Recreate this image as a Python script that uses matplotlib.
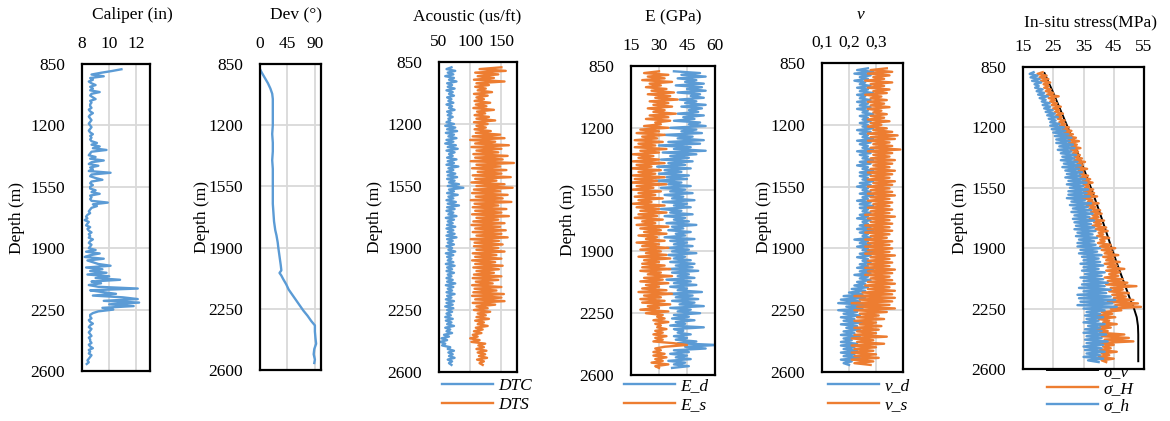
import numpy as np
import matplotlib
matplotlib.use("Agg")
import matplotlib.pyplot as plt

plt.rcParams['font.family'] = ['Liberation Serif', 'DejaVu Serif']

# ---------------- data ----------------
depth = np.arange(880, 2561, 10)          # sample depths (m)
depth_ticks = [850, 1200, 1550, 1900, 2250, 2600]

caliper = [10.9, 10.2, 9.4, 8.7, 9.6, 8.6, 8.8, 8.5, 8.7, 9.0,
           8.6, 8.8, 8.6, 9.3, 8.7, 8.6, 8.8, 9.0, 8.6, 8.7,
           8.6, 8.6, 8.7, 8.5, 8.6, 8.8, 8.6, 8.5, 8.6, 8.7,
           8.6, 8.5, 8.6, 8.7, 8.6, 8.5, 8.6, 8.8, 8.6, 8.7,
           8.6, 8.7, 9.1, 8.7, 9.3, 8.8, 9.8, 8.7, 8.6, 8.5,
           9.0, 8.6, 9.6, 8.7, 8.5, 9.2, 8.6, 8.8, 8.5, 10.1,
           8.7, 8.6, 9.0, 9.5, 8.7, 8.6, 8.8, 8.6, 8.6, 9.0,
           8.7, 9.3, 8.6, 8.7, 8.6, 8.7, 9.9, 8.8, 9.1, 8.7,
           8.6, 8.5, 8.6, 8.4, 8.3, 8.4, 8.2, 8.5, 8.4, 8.3,
           8.6, 8.4, 8.5, 8.7, 8.5, 8.6, 8.5, 8.8, 8.6, 8.5,
           8.7, 8.6, 8.5, 9.0, 8.3, 9.3, 8.6, 8.2, 9.6, 8.4,
           8.8, 9.2, 10.1, 8.3, 9.5, 8.6, 9.8, 8.4, 10.0, 9.0,
           10.8, 8.7, 9.4, 8.5, 9.2, 12.1, 8.6, 9.5, 10.5, 8.8,
           11.0, 12.1, 9.6, 12.2, 10.0, 11.8, 9.5, 10.3, 9.2, 8.8,
           8.6, 8.6, 8.7, 8.5, 8.6, 8.8, 8.6, 8.5, 8.7, 8.6,
           8.5, 8.6, 8.7, 8.5, 8.6, 8.6, 8.7, 8.5, 8.6, 8.8,
           8.5, 8.6, 8.5, 8.7, 8.6, 8.5, 8.4, 8.5, 8.35]

dev_depth = [880, 900, 930, 960, 990, 1020, 1050, 1100, 1200, 1250, 1300, 1350,
             1400, 1450, 1500, 1550, 1600, 1650, 1700, 1750, 1800, 1830, 1870,
             1900, 1950, 2000, 2030, 2045, 2060, 2080, 2110, 2140, 2170, 2200,
             2230, 2260, 2290, 2320, 2345, 2380, 2420, 2450, 2480, 2510, 2540, 2560]
dev = [0, 3, 8, 13, 17, 20, 21, 21, 21, 20, 21, 21,
       20, 21, 21, 21, 21, 21, 22, 23, 25, 27, 29,
       30, 32, 34, 35, 32, 35, 38, 43, 47, 53, 59,
       65, 71, 78, 84, 90, 90, 91, 92, 89, 88, 90, 89]

dtc = [70, 62, 76, 64, 73, 60, 74, 66, 78, 63,
       71, 64, 75, 62, 72, 66, 74, 63, 70, 65,
       73, 62, 71, 66, 75, 63, 70, 64, 72, 65,
       68, 62, 74, 60, 76, 63, 79, 61, 74, 65,
       78, 62, 73, 60, 77, 64, 80, 62, 75, 66,
       72, 63, 78, 64, 74, 62, 81, 65, 73, 63,
       76, 64, 79, 63, 75, 66, 82, 64, 89, 66,
       74, 63, 80, 65, 73, 62, 77, 64, 82, 63,
       75, 62, 73, 65, 78, 61, 74, 64, 72, 63,
       76, 62, 73, 64, 75, 62, 78, 63, 72, 64,
       74, 62, 71, 65, 76, 61, 73, 63, 70, 64,
       73, 61, 75, 63, 71, 62, 74, 64, 70, 62,
       72, 63, 76, 61, 73, 64, 71, 62, 75, 63,
       70, 61, 74, 62, 72, 60, 73, 63, 71, 62,
       69, 60, 72, 61, 70, 63, 74, 60, 68, 62,
       71, 58, 66, 54, 63, 52, 60, 55, 68, 64,
       74, 65, 72, 66, 75, 64, 71, 66, 70]

dts = [150, 115, 157, 108, 145, 112, 138, 106, 155, 110,
       130, 108, 125, 112, 135, 106, 128, 110, 122, 107,
       132, 109, 126, 105, 138, 111, 124, 107, 130, 110,
       140, 106, 128, 110, 125, 107, 133, 109, 148, 104,
       155, 100, 140, 108, 162, 102, 150, 110, 145, 105,
       160, 108, 152, 101, 170, 110, 148, 103, 158, 112,
       150, 104, 165, 108, 142, 102, 155, 110, 168, 106,
       148, 103, 160, 109, 152, 101, 166, 107, 145, 104,
       158, 108, 150, 103, 162, 110, 145, 105, 155, 102,
       148, 108, 157, 104, 150, 110, 160, 101, 146, 107,
       152, 106, 145, 110, 155, 104, 142, 108, 150, 103,
       140, 108, 152, 105, 146, 110, 138, 106, 150, 104,
       145, 109, 136, 103, 150, 107, 142, 105, 154, 103,
       150, 108, 155, 104, 140, 110, 128, 106, 132, 112,
       125, 110, 130, 108, 122, 112, 128, 109, 120, 106,
       118, 104, 112, 100, 115, 102, 124, 113, 122, 110,
       126, 112, 124, 114, 127, 111, 122, 115, 120]

e_d = [38, 52, 42, 55, 40, 50, 44, 54, 39, 53,
       45, 55, 40, 52, 47, 54, 41, 50, 44, 55,
       42, 53, 46, 51, 40, 54, 43, 49, 38, 52,
       46, 55, 36, 50, 42, 53, 33, 48, 40, 54,
       35, 52, 30, 47, 38, 55, 32, 50, 36, 46,
       31, 48, 35, 44, 29, 47, 33, 42, 30, 46,
       34, 45, 28, 42, 35, 47, 31, 44, 36, 48,
       33, 43, 37, 49, 32, 45, 38, 47, 31, 42,
       36, 48, 33, 44, 38, 46, 34, 50, 37, 43,
       35, 47, 39, 44, 33, 49, 36, 45, 38, 48,
       34, 46, 37, 50, 35, 44, 38, 47, 36, 49,
       39, 48, 35, 51, 37, 46, 40, 49, 34, 47,
       38, 50, 36, 45, 40, 53, 35, 48, 39, 51,
       37, 49, 41, 54, 36, 47, 40, 52, 38, 46,
       37, 49, 39, 44, 36, 54, 38, 43, 40, 47,
       38, 45, 39, 50, 40, 61, 44, 55, 38, 46,
       36, 45, 39, 47, 35, 44, 38, 46, 37]

e_s = [30, 22, 35, 24, 33, 21, 37, 25, 31, 23,
       34, 26, 38, 24, 36, 28, 40, 25, 35, 27,
       37, 24, 33, 27, 39, 25, 35, 23, 36, 28,
       31, 22, 35, 20, 30, 18, 33, 21, 29, 17,
       32, 19, 28, 17, 34, 20, 30, 16, 27, 19,
       30, 16, 33, 18, 26, 15, 31, 19, 28, 16,
       33, 17, 29, 15, 34, 18, 27, 16, 31, 19,
       28, 17, 32, 19, 26, 16, 33, 18, 30, 20,
       34, 19, 29, 17, 32, 21, 28, 18, 35, 20,
       31, 22, 34, 19, 29, 23, 33, 18, 30, 21,
       35, 20, 31, 23, 34, 19, 36, 22, 30, 21,
       33, 21, 36, 20, 31, 24, 37, 22, 32, 20,
       35, 23, 30, 21, 34, 19, 37, 22, 31, 20,
       33, 21, 36, 24, 30, 20, 35, 23, 32, 29,
       33, 27, 35, 28, 31, 29, 34, 28, 32, 27,
       34, 28, 32, 27, 38, 45, 33, 28, 31, 27,
       33, 27, 34, 28, 32, 26, 35, 28, 30]

v_d = [0.27, 0.23, 0.29, 0.22, 0.28, 0.24, 0.27, 0.22, 0.26, 0.24,
       0.28, 0.23, 0.27, 0.24, 0.29, 0.23, 0.26, 0.24, 0.28, 0.23,
       0.27, 0.24, 0.28, 0.23, 0.27, 0.25, 0.29, 0.24, 0.27, 0.25,
       0.28, 0.24, 0.27, 0.25, 0.29, 0.23, 0.28, 0.24, 0.27, 0.25,
       0.29, 0.23, 0.28, 0.24, 0.27, 0.25, 0.29, 0.23, 0.28, 0.24,
       0.27, 0.25, 0.29, 0.24, 0.28, 0.23, 0.27, 0.25, 0.29, 0.24,
       0.28, 0.24, 0.27, 0.25, 0.29, 0.24, 0.28, 0.23, 0.27, 0.25,
       0.28, 0.24, 0.29, 0.25, 0.27, 0.23, 0.28, 0.24, 0.29, 0.24,
       0.27, 0.25, 0.28, 0.24, 0.27, 0.23, 0.28, 0.25, 0.27, 0.24,
       0.28, 0.23, 0.29, 0.24, 0.27, 0.25, 0.28, 0.22, 0.27, 0.24,
       0.28, 0.23, 0.27, 0.25, 0.29, 0.24, 0.28, 0.23, 0.27, 0.25,
       0.28, 0.24, 0.27, 0.23, 0.29, 0.24, 0.28, 0.22, 0.27, 0.24,
       0.28, 0.23, 0.26, 0.22, 0.27, 0.21, 0.26, 0.20, 0.25, 0.18,
       0.26, 0.17, 0.24, 0.16, 0.27, 0.19, 0.25, 0.16, 0.23, 0.18,
       0.24, 0.17, 0.22, 0.18, 0.25, 0.17, 0.23, 0.19, 0.24, 0.18,
       0.22, 0.17, 0.24, 0.18, 0.21, 0.17, 0.23, 0.17, 0.22, 0.18,
       0.23, 0.17, 0.22, 0.18, 0.24, 0.17, 0.21, 0.18, 0.20]

v_s = [0.34, 0.28, 0.36, 0.27, 0.35, 0.29, 0.33, 0.26, 0.36, 0.28,
       0.33, 0.27, 0.35, 0.29, 0.34, 0.26, 0.32, 0.28, 0.34, 0.27,
       0.33, 0.28, 0.35, 0.27, 0.32, 0.29, 0.34, 0.28, 0.33, 0.27,
       0.35, 0.28, 0.32, 0.27, 0.34, 0.29, 0.36, 0.27, 0.38, 0.28,
       0.37, 0.27, 0.35, 0.29, 0.36, 0.28, 0.39, 0.27, 0.36, 0.29,
       0.35, 0.28, 0.37, 0.27, 0.36, 0.29, 0.35, 0.28, 0.37, 0.27,
       0.36, 0.28, 0.35, 0.27, 0.37, 0.29, 0.36, 0.27, 0.35, 0.28,
       0.36, 0.27, 0.37, 0.28, 0.35, 0.27, 0.36, 0.29, 0.35, 0.27,
       0.36, 0.28, 0.35, 0.26, 0.37, 0.27, 0.35, 0.28, 0.36, 0.26,
       0.35, 0.27, 0.36, 0.26, 0.35, 0.28, 0.34, 0.26, 0.36, 0.27,
       0.35, 0.26, 0.36, 0.27, 0.35, 0.26, 0.37, 0.28, 0.35, 0.27,
       0.36, 0.27, 0.35, 0.26, 0.37, 0.27, 0.36, 0.26, 0.35, 0.28,
       0.36, 0.27, 0.37, 0.26, 0.35, 0.27, 0.37, 0.25, 0.36, 0.22,
       0.37, 0.24, 0.36, 0.21, 0.35, 0.23, 0.37, 0.22, 0.34, 0.24,
       0.31, 0.23, 0.33, 0.22, 0.30, 0.24, 0.32, 0.22, 0.31, 0.23,
       0.30, 0.22, 0.34, 0.21, 0.29, 0.23, 0.33, 0.21, 0.30, 0.22,
       0.29, 0.21, 0.30, 0.22, 0.31, 0.21, 0.29, 0.22, 0.28]

sv_depth = [885, 1000, 1100, 1200, 1300, 1400, 1500, 1600, 1700, 1800, 1900,
            2000, 2100, 2200, 2250, 2300, 2350, 2400, 2450, 2555]
sigma_v = [22.1, 25.0, 27.4, 29.8, 32.0, 34.2, 36.4, 38.5, 40.5, 42.4, 44.3,
           46.3, 48.4, 50.5, 51.7, 52.6, 53.0, 53.1, 53.1, 53.1]

sigma_H = [21.5, 19.8, 22.8, 20.5, 23.4, 21.0, 24.0, 21.8, 23.5, 22.0,
           24.2, 22.5, 25.0, 23.0, 26.8, 23.5, 25.6, 24.0, 26.2, 24.5,
           27.5, 25.0, 27.0, 25.6, 28.2, 26.0, 27.8, 26.5, 28.8, 27.0,
           29.0, 27.2, 30.2, 28.0, 31.0, 28.6, 31.5, 29.0, 32.5, 30.0,
           33.5, 30.2, 32.8, 31.0, 34.0, 30.8, 33.2, 31.5, 33.8, 32.0,
           34.5, 32.0, 35.5, 33.0, 34.8, 32.5, 36.2, 33.4, 35.0, 33.8,
           36.5, 34.0, 37.2, 34.8, 38.0, 35.0, 36.8, 35.5, 38.2, 35.2,
           38.5, 35.5, 39.5, 34.5, 38.0, 36.5, 40.0, 36.0, 39.0, 37.0,
           40.5, 37.5, 41.0, 38.0, 40.0, 37.0, 41.8, 38.5, 40.8, 38.0,
           42.5, 39.0, 43.0, 40.0, 41.5, 39.5, 43.5, 40.5, 42.0, 39.8,
           44.0, 40.5, 45.5, 41.0, 44.5, 42.0, 46.5, 41.5, 45.0, 42.5,
           47.0, 42.0, 46.0, 43.0, 48.5, 42.5, 47.0, 43.5, 46.5, 42.0,
           48.0, 43.0, 49.5, 42.5, 52.5, 44.0, 48.0, 43.5, 50.0, 44.5,
           49.0, 45.0, 51.5, 43.0, 53.0, 45.5, 54.0, 44.0, 47.5, 41.0,
           44.5, 39.5, 45.5, 40.0, 43.5, 41.5, 46.0, 40.5, 44.0, 39.0,
           43.0, 40.5, 48.5, 41.0, 50.0, 42.0, 51.5, 40.0, 45.0, 41.5,
           44.0, 40.5, 46.0, 41.0, 43.5, 40.0, 45.0, 41.0, 42.5]

sigma_h = [18.5, 17.2, 19.8, 17.5, 20.5, 18.0, 21.0, 18.8, 20.2, 19.0,
           21.5, 19.5, 22.0, 20.0, 23.2, 20.5, 22.5, 21.2, 23.8, 21.5,
           24.0, 22.0, 24.8, 22.5, 25.5, 23.0, 26.5, 23.5, 25.8, 24.0,
           27.0, 24.0, 28.5, 24.5, 29.0, 25.0, 30.0, 25.5, 31.0, 26.0,
           30.5, 26.0, 31.5, 27.0, 32.0, 26.5, 31.0, 27.5, 32.5, 28.0,
           32.0, 27.5, 33.0, 28.5, 34.0, 28.0, 33.5, 29.0, 34.5, 29.5,
           34.0, 29.0, 35.5, 30.0, 36.0, 29.5, 35.0, 30.5, 36.5, 30.0,
           36.0, 30.0, 37.0, 29.5, 35.5, 31.0, 37.5, 30.5, 36.5, 31.5,
           37.5, 31.0, 38.0, 32.0, 37.0, 31.5, 38.5, 32.0, 37.5, 32.5,
           38.5, 32.0, 39.0, 33.0, 38.0, 32.5, 39.5, 33.5, 38.5, 33.0,
           39.0, 33.0, 40.5, 34.0, 39.5, 33.5, 41.0, 34.5, 40.0, 35.0,
           40.5, 34.0, 41.5, 35.0, 40.0, 34.5, 42.0, 35.5, 41.0, 34.0,
           41.5, 35.0, 43.0, 34.5, 42.0, 33.5, 44.0, 35.0, 42.5, 33.0,
           44.0, 33.5, 45.5, 34.0, 44.5, 33.0, 46.0, 35.0, 42.0, 36.0,
           40.5, 35.5, 41.5, 36.0, 40.0, 35.0, 42.0, 36.5, 40.5, 35.5,
           41.0, 35.0, 42.5, 36.0, 41.0, 35.5, 43.0, 36.0, 41.5, 35.0,
           41.0, 35.5, 42.0, 36.0, 40.5, 35.0, 41.5, 36.5, 40.0]

# ---------------- style / layout ----------------
W, H = 1170, 421
BLUE, ORANGE, GRID = '#5B9BD5', '#ED7D31', '#D9D9D9'
FS = 12.5
LW = 1.7

fig = plt.figure(figsize=(W / 100, H / 100), dpi=100)


def box(l, r, t, b):
    return [l / W, 1 - b / H, (r - l) / W, (b - t) / H]


def panel(rect, xlim, xticks, xticklabels, title, title_xy, ylabel_x, title_style='normal'):
    l, r, t, b = rect
    ax = fig.add_axes(box(l, r, t, b))
    ax.set_ylim(2600, 850)
    ax.set_yticks(depth_ticks)
    ax.set_yticklabels([str(d) for d in depth_ticks])
    ax.set_xlim(*xlim)
    ax.set_xticks(xticks)
    ax.set_xticklabels(xticklabels)
    ax.xaxis.tick_top()
    ax.tick_params(axis='y', length=0, labelsize=FS, pad=12)
    ax.tick_params(axis='x', length=0, labelsize=FS, pad=9)
    ax.grid(True, color=GRID, lw=1.3)
    ax.set_axisbelow(True)
    for s in ax.spines.values():
        s.set_linewidth(1.6)
        s.set_color('black')
        s.set_zorder(5)
    ax.set_ylabel('Depth (m)', fontsize=FS, va='center')
    ax.yaxis.set_label_coords((ylabel_x - l) / (r - l), 0.5)
    fig.text(title_xy[0] / W, 1 - title_xy[1] / H, title, ha='center', va='center',
             fontsize=FS, style=title_style)
    return ax


def legend(ax, x, y, spacing=0.15):
    ax.legend(loc='upper left', bbox_to_anchor=(x / W, 1 - y / H),
              bbox_transform=fig.transFigure, frameon=False, borderpad=0,
              borderaxespad=0, handlelength=2.95, handletextpad=0.3,
              labelspacing=spacing, prop={'style': 'italic', 'size': FS})


# Caliper
ax1 = panel((82, 150, 64, 371), (8, 13), [8, 10, 12], ['8', '10', '12'],
            'Caliper (in)', (132, 15), 17)
ax1.plot(caliper, depth, color=BLUE, lw=LW)

# Deviation
ax2 = panel((260, 321, 64, 370), (0, 100), [0, 45, 90], ['0', '45', '90'],
            'Dev (°)', (296, 15), 202)
ax2.plot(dev, dev_depth, color=BLUE, lw=LW)

# Acoustic
ax3 = panel((439, 517, 62, 372), (50, 175), [50, 100, 150], ['50', '100', '150'],
            'Acoustic (us/ft)', (467, 17), 375)
ax3.plot(dtc, depth, color=BLUE, lw=LW, label='DTC')
ax3.plot(dts, depth, color=ORANGE, lw=LW, label='DTS')
legend(ax3, 442, 378)

# Young's modulus
ax4 = panel((631, 715, 66, 375), (15, 60), [15, 30, 45, 60], ['15', '30', '45', '60'],
            'E (GPa)', (673, 17), 568)
ax4.plot(e_d, depth, color=BLUE, lw=LW, label='E_d')
ax4.plot(e_s, depth, color=ORANGE, lw=LW, label='E_s')
legend(ax4, 624, 378)

# Poisson's ratio
ax5 = panel((822, 903, 63, 372), (0.1, 0.4), [0.1, 0.2, 0.3], ['0,1', '0,2', '0,3'],
            'v', (861, 15), 764, title_style='italic')
ax5.plot(v_d, depth, color=BLUE, lw=LW, label='v_d')
ax5.plot(v_s, depth, color=ORANGE, lw=LW, label='v_s')
legend(ax5, 828, 378)

# In-situ stress
ax6 = panel((1023, 1144, 67, 369), (15, 55), [15, 25, 35, 45, 55],
            ['15', '25', '35', '45', '55'], 'In-situ stress(MPa)', (1091, 23), 960)
ax6.plot(sigma_v, sv_depth, color='black', lw=1.4, label='σ_v')
ax6.plot(sigma_H, depth, color=ORANGE, lw=LW, label='σ_H')
ax6.plot(sigma_h, depth, color=BLUE, lw=LW, label='σ_h')
legend(ax6, 1047, 364, spacing=0.05)

fig.savefig('out.png', dpi=100)
